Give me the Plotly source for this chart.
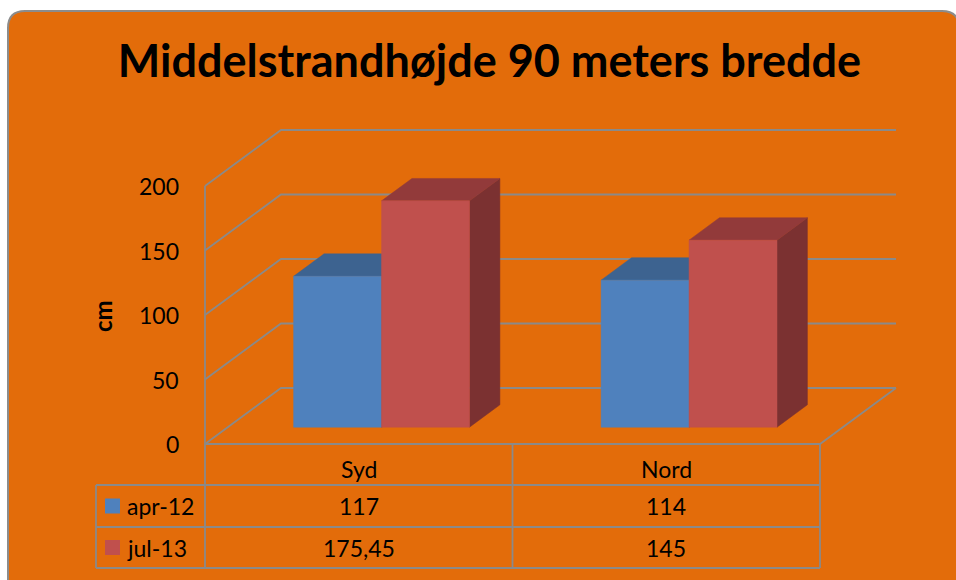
import plotly.graph_objects as go

# ---------------- data ----------------
categories = ["Syd", "Nord"]
series_names = ["apr-12", "jul-13"]
apr_12 = [117, 114]
jul_13 = [175.45, 145]
tick_values = [0, 50, 100, 150, 200]
tick_labels = ["0", "50", "100", "150", "200"]
title_text = "Middelstrandhøjde 90 meters bredde"
axis_title = "cm"

series_values = [apr_12, jul_13]
front_colors = ["#4F81BD", "#C0504D"]
top_colors = ["#3D6390", "#923A3A"]
side_colors = ["#2E4A6E", "#7B3131"]

# ---------------- layout geometry ----------------
W, H = 956, 580
X0_PX, Y0_PX = 205, 444          # front-left-bottom corner of the 3D box
PX_PER_X = 307.5                 # pixels per category
PX_PER_Y = 1.29                  # pixels per cm
DEPTH = (76 / PX_PER_X, 56 / PX_PER_Y)   # full depth vector in data units
BAR_FRONT = 0.3
BAR_DEPTH = 0.4
BAR_W = 0.286
ORANGE = "#E36C0A"
GRID = "#8A8A8A"
FONT = "Lato, 'Open Sans', sans-serif"

xr = [-X0_PX / PX_PER_X, (W - X0_PX) / PX_PER_X]
yr = [-(H - Y0_PX) / PX_PER_Y, Y0_PX / PX_PER_Y]


def px(x):
    return x / W


def py(y):
    return 1 - y / H


fig = go.Figure()

# frame (rounded rectangle)
r = 17
L, T, R, B = 8, 11, 959, 600
path = (f"M {px(L)},{py(T + r)} Q {px(L)},{py(T)} {px(L + r)},{py(T)} "
        f"L {px(R - r)},{py(T)} Q {px(R)},{py(T)} {px(R)},{py(T + r)} "
        f"L {px(R)},{py(B)} L {px(L)},{py(B)} Z")
shapes = [dict(type="path", xref="paper", yref="paper", path=path,
               fillcolor=ORANGE, line=dict(color="#8C8C8C", width=2), layer="below")]

ncat = len(categories)
Dx, Dy = DEPTH
top_val = max(tick_values)


def line(xs, ys):
    fig.add_trace(go.Scatter(x=xs, y=ys, mode="lines", line=dict(color=GRID, width=1.8),
                             hoverinfo="skip", showlegend=False))


# gridlines: left wall diagonals + back wall horizontals
for v in tick_values:
    line([0, Dx, ncat + Dx], [v, v + Dy, v + Dy])
# floor edges
line([0, ncat, ncat + Dx], [0, 0, Dy])
# front-left vertical edge of wall
line([0, 0], [top_val, 0])

# bars (3D faces)
fx, fy = BAR_FRONT * Dx, BAR_FRONT * Dy
bdx, bdy = BAR_DEPTH * Dx, BAR_DEPTH * Dy
for i in range(ncat):
    c = i + 0.5
    for s, vals in enumerate(series_values):
        v = vals[i]
        xl = c + (s - 1) * BAR_W + fx
        xrt = xl + BAR_W
        faces = [
            ([xrt, xrt + bdx, xrt + bdx, xrt, xrt], [fy, fy + bdy, fy + v + bdy, fy + v, fy], side_colors[s]),
            ([xl, xrt, xrt + bdx, xl + bdx, xl], [fy + v, fy + v, fy + v + bdy, fy + v + bdy, fy + v], top_colors[s]),
            ([xl, xrt, xrt, xl, xl], [fy, fy, fy + v, fy + v, fy], front_colors[s]),
        ]
        for xs, ys, col in faces:
            fig.add_trace(go.Scatter(x=xs, y=ys, mode="lines", fill="toself", fillcolor=col,
                                     line=dict(color=col, width=0.5), hoverinfo="skip",
                                     showlegend=False, name=series_names[s]))

# ---------------- data table ----------------
row_y = [444, 485, 527, 568]
leg_left = 96
tl = dict(color=GRID, width=1.8)
for y in row_y[1:]:
    shapes.append(dict(type="line", xref="paper", yref="paper", x0=px(leg_left), x1=px(X0_PX + ncat * PX_PER_X),
                       y0=py(y), y1=py(y), line=tl))
shapes.append(dict(type="line", xref="paper", yref="paper", x0=px(leg_left), x1=px(leg_left),
                   y0=py(row_y[1]), y1=py(row_y[3]), line=tl))
for k in range(ncat + 1):
    shapes.append(dict(type="line", xref="x", yref="paper", x0=k, x1=k,
                       y0=py(row_y[0]), y1=py(row_y[3]), line=tl))

annotations = []
tf = dict(family=FONT, size=23, color="black")
for i, cat in enumerate(categories):
    annotations.append(dict(x=i + 0.5, y=py(468.5), xref="x", yref="paper", text=cat,
                            showarrow=False, font=tf, xanchor="center", yanchor="middle"))
    for s, vals in enumerate(series_values):
        lab = f"{vals[i]:g}".replace(".", ",")
        yc = (row_y[s + 1] + row_y[s + 2]) / 2
        annotations.append(dict(x=i + 0.5, y=py(yc), xref="x", yref="paper", text=lab,
                                showarrow=False, font=tf, xanchor="center", yanchor="middle"))
for s, name in enumerate(series_names):
    yc = (row_y[s + 1] + row_y[s + 2]) / 2
    shapes.append(dict(type="rect", xref="paper", yref="paper", x0=px(105), x1=px(120),
                       y0=py(yc - 7.5), y1=py(yc + 7.5), fillcolor=front_colors[s], line=dict(width=0)))
    annotations.append(dict(x=px(125), y=py(yc), xref="paper", yref="paper", text=name,
                            showarrow=False, font=tf, xanchor="left", yanchor="middle"))

# y tick labels
for v, lab in zip(tick_values, tick_labels):
    annotations.append(dict(x=px(181), y=v, xref="paper", yref="y", text=lab, showarrow=False,
                            font=tf, xanchor="right", yanchor="middle"))
# axis title
annotations.append(dict(x=px(102), y=py(316), xref="paper", yref="paper", text=f"<b>{axis_title}</b>",
                        showarrow=False, textangle=-90, font=dict(family=FONT, size=24, color="black"),
                        xanchor="center", yanchor="middle"))

fig.update_layout(
    width=W, height=H,
    margin=dict(l=0, r=0, t=0, b=0),
    paper_bgcolor="white",
    plot_bgcolor="rgba(0,0,0,0)",
    showlegend=False,
    title=dict(text=f"<b>{title_text}</b>", x=489.5 / W, y=py(61), xanchor="center", yanchor="middle",
               font=dict(family=FONT, size=45, color="black")),
    xaxis=dict(range=xr, visible=False, fixedrange=True),
    yaxis=dict(range=yr, visible=False, fixedrange=True),
    shapes=shapes,
    annotations=annotations,
)

fig.write_html("out.html", config=dict(displayModeBar=False),
               post_script="document.body.style.margin='0';document.body.style.overflow='hidden';")
